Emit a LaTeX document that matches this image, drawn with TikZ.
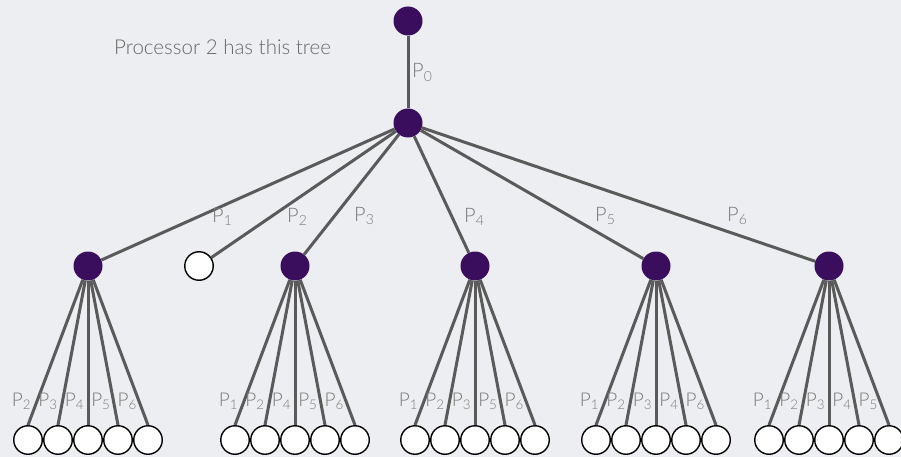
\documentclass[tikz,border=0pt]{standalone}
\usepackage{fontspec}
\setmainfont{Lato}[UprightFont={* Light}]
\definecolor{bg}{HTML}{EDEEF2}
\definecolor{pur}{HTML}{3A0E5C}
\definecolor{edgec}{HTML}{5A5A5A}
\definecolor{labc}{HTML}{7A7A7A}
\begin{document}
\begin{tikzpicture}[x=1pt,y=-1pt,
  innode/.style={circle,fill=pur,minimum size=29pt,inner sep=0pt},
  leafnode/.style={circle,draw=black,fill=white,line width=1.4pt,minimum size=28.5pt,inner sep=0pt},
  edg/.style={draw=edgec,line width=3pt},
  plab/.style={text=labc,font=\fontsize{20}{20}\selectfont,inner sep=0pt,anchor=base west},
  leaflab/.style={text=labc,font=\fontsize{19}{19}\selectfont,inner sep=0pt,anchor=base east,xshift=-2.5pt},
  ttl/.style={text=labc!85!black,font=\fontsize{20.5}{20.5}\selectfont,inner sep=0pt,anchor=base west}]
\fill[bg] (0,0) rectangle (901,457);
\useasboundingbox (0,0) rectangle (901,457);

\node[ttl] (title) at (114,55) {Processor 2 has this tree};

\node[innode] (root) at (408,21) {};
\node[innode] (mid) at (408,123) {};
\draw[edg] (root) -- (mid);
\node[plab] (l0) at (412,78) {P\textsubscript{0}};

\node[innode] (a) at (88,266) {};
\node[leafnode] (e) at (199,266) {};
\node[innode] (b) at (295,266) {};
\node[innode] (c) at (475,266) {};
\node[innode] (d) at (656,266) {};
\node[innode] (f) at (829,266) {};
\foreach \n in {a,e,b,c,d,f} { \draw[edg] (mid) -- (\n); }

\node[plab] (l1) at (212,222) {P\textsubscript{1}};
\node[plab] (l2) at (287,222) {P\textsubscript{2}};
\node[plab] (l3) at (354,221) {P\textsubscript{3}};
\node[plab] (l4) at (464,222) {P\textsubscript{4}};
\node[plab] (l5) at (595,221) {P\textsubscript{5}};
\node[plab] (l6) at (727,221) {P\textsubscript{6}};

\foreach \g/\x/\labs in {a/88/{2,3,4,5,6}, b/295/{1,2,4,5,6}, c/475/{1,2,3,5,6}, d/656/{1,2,3,4,6}, f/829/{1,2,3,4,5}} {
  \foreach \l [count=\i] in \labs {
    \node[leafnode] (\g\i) at ({\x+(\i-3)*30},440) {};
    \draw[edg] (\g) -- (\g\i.north) node[leaflab,pos=0.87] (lab\g\i) {P\textsubscript{\l}};
  }
}
\end{tikzpicture}
\end{document}
